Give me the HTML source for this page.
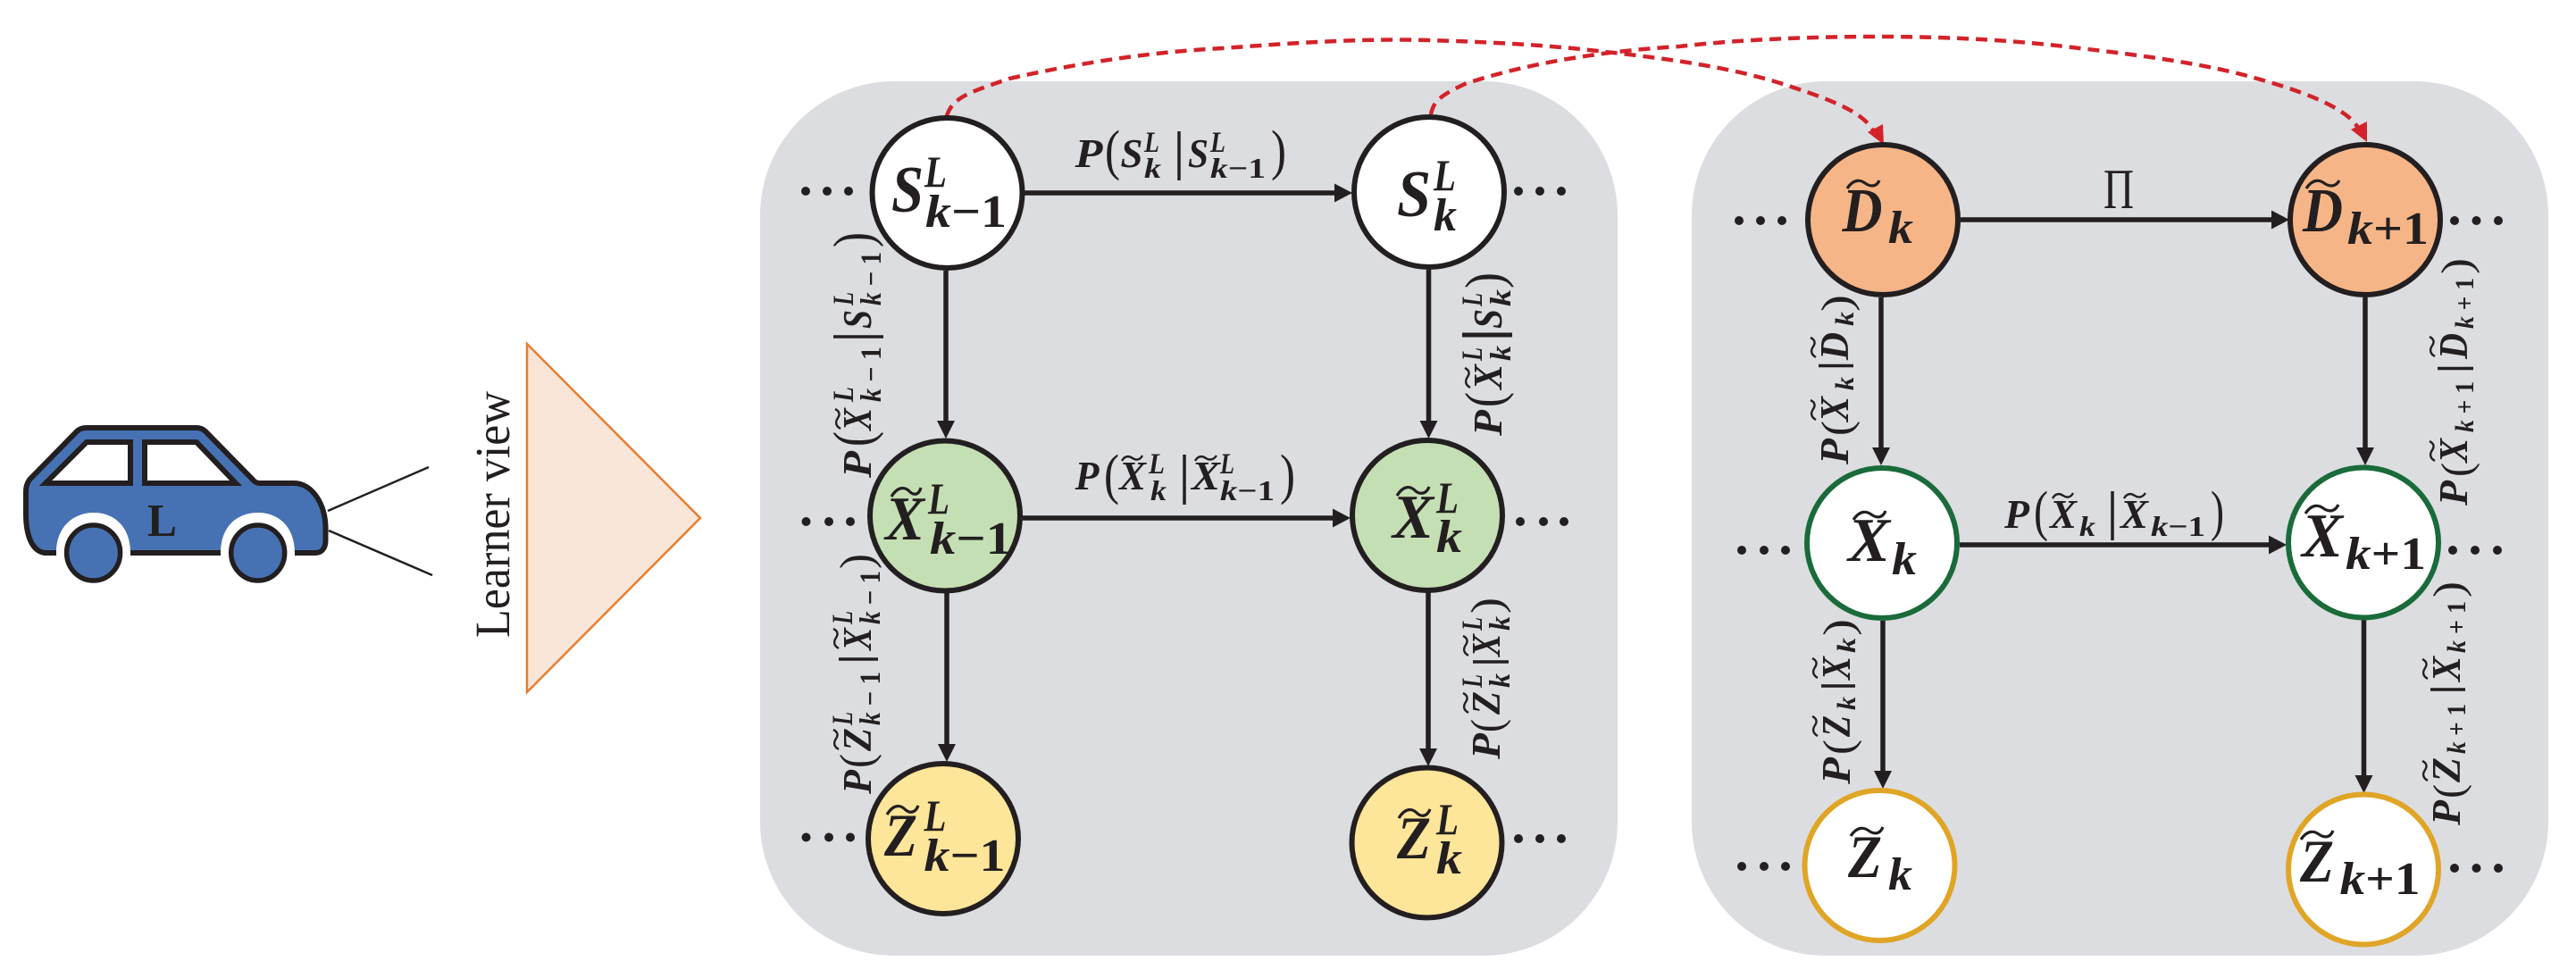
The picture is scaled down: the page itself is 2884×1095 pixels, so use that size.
<!DOCTYPE html>
<html><head><meta charset="utf-8"><style>
html,body{margin:0;padding:0;background:#fff}
svg{display:block}
text{font-family:"Liberation Serif",serif;fill:#231f20}
.m{font-weight:bold;font-style:italic}
.u{font-style:normal}
.n{stroke:#231f20;stroke-width:6}
.t{fill:none;stroke:#231f20;stroke-width:3.2}
.tv{fill:none;stroke:#231f20;stroke-width:2.4}
.bar{stroke:#231f20;stroke-width:3.5}
.a{stroke:#231f20;stroke-width:5.5;fill:none}
.h{fill:#231f20}
.d{fill:#231f20}
.r{fill:none;stroke:#d2232a;stroke-width:4.5;stroke-dasharray:13 8}
</style></head><body>
<svg xmlns="http://www.w3.org/2000/svg" width="2884" height="1095" viewBox="0 0 2884 1095">
<rect width="2884" height="1095" fill="#fff"/>

<!-- car -->
<path d="M63,619 L50,619 C36,617 29,600 29,575 L29,550 Q29,543 33,537 L86,483 Q90,479 97,479 L220,479 Q227,479 232,485 L283,537 Q286,541 291,541 L329,541 C350,541 364,565 364.5,590 L364.5,605 C364.5,614 360,619 353,619 L330,619 C330,590 312,574 288.7,574 C265,574 247,590 247,619 L146,619 C146,590 128,574 105,574 C82,574 63,590 63,619 Z" fill="#4672b4"/>
<path d="M63,619 L50,619 C36,617 29,600 29,575 L29,550 Q29,543 33,537 L86,483 Q90,479 97,479 L220,479 Q227,479 232,485 L283,537 Q286,541 291,541 L329,541 C350,541 364,565 364.5,590 L364.5,605 C364.5,614 360,619 353,619 L330,619 M247,619 L146,619" fill="none" stroke="#231f20" stroke-width="6"/>
<polygon points="51,541 97,495 146,495 146,541" fill="#fff" stroke="#231f20" stroke-width="6"/>
<polygon points="162,541 162,495 220,495 264,541" fill="#fff" stroke="#231f20" stroke-width="6"/>
<ellipse cx="104.6" cy="619" rx="30" ry="31" fill="#4672b4" stroke="#231f20" stroke-width="5.5"/>
<ellipse cx="288.7" cy="619" rx="30" ry="31" fill="#4672b4" stroke="#231f20" stroke-width="5.5"/>
<text x="165" y="600" font-size="52" font-weight="bold" textLength="33" lengthAdjust="spacingAndGlyphs">L</text>
<line x1="367" y1="572" x2="480" y2="523" stroke="#231f20" stroke-width="2.5"/>
<line x1="368" y1="594" x2="484" y2="644" stroke="#231f20" stroke-width="2.5"/>
<polygon points="590,385 784,580 590,775" fill="#f9e6d8" stroke="#e97d2e" stroke-width="2.5"/>
<text transform="translate(570,714) rotate(-90)" font-size="55" textLength="276" lengthAdjust="spacingAndGlyphs">Learner view</text>

<!-- panels -->
<rect x="851" y="91" width="960" height="979" rx="150" ry="150" fill="#dcdde0"/>
<rect x="1894" y="91" width="959" height="979" rx="150" ry="150" fill="#dcdde0"/>

<!-- red dashed -->
<path class="r" d="M1060,130 C1066,108 1090,102 1130,88 C1210,70 1290,58 1369,54 C1450,48 1520,43 1599,45 C1665,47 1730,50 1797,58 C1870,66 1945,76 2008,98 C2050,112 2085,125 2097,146"/>
<path class="r" d="M1602,128 C1605,112 1615,106 1640,94 C1700,74 1780,58 1880,52 C1950,44 2030,41 2104,41 C2190,41 2265,46 2328,54 C2400,62 2470,72 2520,86 C2570,100 2625,118 2640,143"/>
<polygon points="2109,162 2108,139 2091,148" fill="#d2232a"/>
<polygon points="2650,159 2650,136 2632,145" fill="#d2232a"/>

<!-- connectors -->
<g class="a">
<line x1="1147" y1="216" x2="1496" y2="216"/>
<line x1="1145" y1="580" x2="1494" y2="580"/>
<line x1="1059" y1="303" x2="1059" y2="474"/>
<line x1="1599.5" y1="302" x2="1599.5" y2="474"/>
<line x1="1060" y1="664" x2="1060" y2="835"/>
<line x1="1599" y1="663" x2="1599" y2="840"/>
<line x1="2195" y1="246" x2="2545" y2="246"/>
<line x1="2194" y1="610" x2="2542" y2="610"/>
<line x1="2106" y1="333" x2="2106" y2="504"/>
<line x1="2648" y1="333" x2="2648" y2="504"/>
<line x1="2108" y1="695" x2="2108" y2="865"/>
<line x1="2646.5" y1="694" x2="2646.5" y2="870"/>
</g>
<g class="h">
<polygon points="1514,216 1494,205.5 1494,226.500"/>
<polygon points="1512,580 1492,569.500 1492,590.500"/>
<polygon points="1059,491 1049,471 1069,471"/>
<polygon points="1599.500,491 1589.500,471 1609.500,471"/>
<polygon points="1060,853 1050,833 1070,833"/>
<polygon points="1599,858 1589,838 1609,838"/>
<polygon points="2563,246 2543,235.500 2543,256.500"/>
<polygon points="2560,610 2540,599.500 2540,620.500"/>
<polygon points="2106,521 2096,501 2116,501"/>
<polygon points="2648,521 2638,501 2658,501"/>
<polygon points="2108,883 2098,863 2118,863"/>
<polygon points="2646.500,888 2636.500,868 2656.500,868"/>
</g>

<!-- nodes -->
<circle class="n" cx="1060.500" cy="216" r="84" fill="#fff"/>
<circle class="n" cx="1600" cy="215" r="84" fill="#fff"/>
<circle class="n" cx="1058" cy="577.500" r="84" fill="#c5dfb4"/>
<circle class="n" cx="1598" cy="577" r="84" fill="#c5dfb4"/>
<circle class="n" cx="1056" cy="939" r="84" fill="#fde599"/>
<circle class="n" cx="1597.500" cy="943.500" r="84" fill="#fde599"/>
<circle class="n" cx="2108" cy="246" r="84" fill="#f6b587"/>
<circle class="n" cx="2648" cy="246" r="84" fill="#f6b587"/>
<circle class="n" cx="2107" cy="608" r="84" fill="#fff" style="stroke:#1a6b3a"/>
<circle class="n" cx="2646" cy="607.500" r="84" fill="#fff" style="stroke:#1a6b3a"/>
<circle class="n" cx="2104.500" cy="969" r="84" fill="#fff" style="stroke:#e0a526"/>
<circle class="n" cx="2646" cy="973.500" r="84" fill="#fff" style="stroke:#e0a526"/>

<!-- ellipsis dots -->
<g class="d">
<circle cx="902" cy="214" r="5"/><circle cx="926" cy="214" r="5"/><circle cx="950" cy="214" r="5"/>
<circle cx="1700" cy="214" r="5"/><circle cx="1724" cy="214" r="5"/><circle cx="1748" cy="214" r="5"/>
<circle cx="902.500" cy="584" r="5"/><circle cx="928" cy="584" r="5"/><circle cx="952" cy="584" r="5"/>
<circle cx="1702" cy="584" r="5"/><circle cx="1728" cy="584" r="5"/><circle cx="1751" cy="584" r="5"/>
<circle cx="902.500" cy="937.500" r="5"/><circle cx="928" cy="937.500" r="5"/><circle cx="952" cy="937.500" r="5"/>
<circle cx="1700" cy="939" r="5"/><circle cx="1724" cy="939" r="5"/><circle cx="1748" cy="939" r="5"/>
<circle cx="1947" cy="247" r="5"/><circle cx="1971" cy="247" r="5"/><circle cx="1995" cy="247" r="5"/>
<circle cx="2748" cy="247" r="5"/><circle cx="2772.500" cy="247" r="5"/><circle cx="2797" cy="247" r="5"/>
<circle cx="1950" cy="616" r="5"/><circle cx="1975" cy="616" r="5"/><circle cx="1999" cy="616" r="5"/>
<circle cx="2746" cy="616" r="5"/><circle cx="2771" cy="616" r="5"/><circle cx="2796" cy="616" r="5"/>
<circle cx="1950" cy="970" r="5"/><circle cx="1975" cy="970" r="5"/><circle cx="1999" cy="970" r="5"/>
<circle cx="2748" cy="972" r="5"/><circle cx="2772.500" cy="972" r="5"/><circle cx="2797" cy="972" r="5"/>
</g>

<!-- node labels -->
<g class="m">
<text x="998" y="237" font-size="74" textLength="36" lengthAdjust="spacingAndGlyphs">S</text>
<text x="1035" y="209" font-size="50" textLength="25" lengthAdjust="spacingAndGlyphs">L</text>
<text x="1036" y="254" font-size="52" textLength="91" lengthAdjust="spacingAndGlyphs">k<tspan class="u">−1</tspan></text>

<text x="1564" y="242" font-size="74" textLength="38" lengthAdjust="spacingAndGlyphs">S</text>
<text x="1605" y="213" font-size="50" textLength="25" lengthAdjust="spacingAndGlyphs">L</text>
<text x="1605" y="258" font-size="52" textLength="26" lengthAdjust="spacingAndGlyphs">k</text>

<text x="991" y="604" font-size="70" textLength="44" lengthAdjust="spacingAndGlyphs">X</text>
<text x="1039" y="575" font-size="50" textLength="24" lengthAdjust="spacingAndGlyphs">L</text>
<text x="1041" y="620" font-size="52" textLength="92" lengthAdjust="spacingAndGlyphs">k<tspan class="u">−1</tspan></text>

<text x="1559" y="602" font-size="70" textLength="46" lengthAdjust="spacingAndGlyphs">X</text>
<text x="1608" y="574" font-size="50" textLength="25" lengthAdjust="spacingAndGlyphs">L</text>
<text x="1608" y="618" font-size="52" textLength="29" lengthAdjust="spacingAndGlyphs">k</text>

<text x="990" y="958" font-size="68" textLength="37" lengthAdjust="spacingAndGlyphs">Z</text>
<text x="1034.500" y="930" font-size="50" textLength="25" lengthAdjust="spacingAndGlyphs">L</text>
<text x="1034.500" y="975" font-size="52" textLength="91" lengthAdjust="spacingAndGlyphs">k<tspan class="u">−1</tspan></text>

<text x="1564" y="961" font-size="68" textLength="38" lengthAdjust="spacingAndGlyphs">Z</text>
<text x="1608" y="934" font-size="50" textLength="25" lengthAdjust="spacingAndGlyphs">L</text>
<text x="1608" y="978" font-size="52" textLength="29" lengthAdjust="spacingAndGlyphs">k</text>

<text x="2062.500" y="259" font-size="70" textLength="45" lengthAdjust="spacingAndGlyphs">D</text>
<text x="2114" y="272" font-size="52" textLength="28" lengthAdjust="spacingAndGlyphs">k</text>
<text x="2578" y="259" font-size="70" textLength="45" lengthAdjust="spacingAndGlyphs">D</text>
<text x="2628" y="273" font-size="52" textLength="91" lengthAdjust="spacingAndGlyphs">k<tspan class="u">+1</tspan></text>

<text x="2069" y="628" font-size="70" textLength="47" lengthAdjust="spacingAndGlyphs">X</text>
<text x="2118" y="643" font-size="52" textLength="28" lengthAdjust="spacingAndGlyphs">k</text>
<text x="2577" y="623" font-size="70" textLength="46" lengthAdjust="spacingAndGlyphs">X</text>
<text x="2626" y="637" font-size="52" textLength="90" lengthAdjust="spacingAndGlyphs">k<tspan class="u">+1</tspan></text>

<text x="2069" y="982" font-size="68" textLength="38" lengthAdjust="spacingAndGlyphs">Z</text>
<text x="2114" y="996" font-size="52" textLength="27" lengthAdjust="spacingAndGlyphs">k</text>
<text x="2575" y="987" font-size="68" textLength="38" lengthAdjust="spacingAndGlyphs">Z</text>
<text x="2619.500" y="1001" font-size="52" textLength="90" lengthAdjust="spacingAndGlyphs">k<tspan class="u">+1</tspan></text>
</g>
<!-- node tildes -->
<g class="t">
<path d="M998,556 C1006,543 1014,546 1018,550 S1028,556 1031,546"/>
<path d="M1564,555 C1572,542 1580,545 1584,549 S1596,555 1600,545"/>
<path d="M993,912 C1001,899 1009,902 1013,906 S1024,912 1028,902"/>
<path d="M1566,916 C1574,903 1582,906 1586,910 S1597,916 1601,906"/>
<path d="M2068,211 C2076,199 2084,202 2088,205 S2100,211 2104,202"/>
<path d="M2582,211 C2590,199 2598,202 2602,205 S2614,211 2619,202"/>
<path d="M2075,582 C2083,570 2091,573 2095,576 S2107,582 2111,572"/>
<path d="M2581,575 C2589,563 2597,566 2601,569 S2613,575 2618,565"/>
<path d="M2072,936 C2080,924 2088,927 2092,930 S2104,936 2108,926"/>
<path d="M2576,940 C2584,928 2592,931 2596,934 S2608,940 2612,930"/>
</g>

<!-- Pi -->
<text x="2355" y="233" font-size="64" textLength="34" lengthAdjust="spacingAndGlyphs">Π</text>

<!-- horizontal edge labels -->
<g class="m" font-size="46">
<text x="1203.500" y="187" textLength="31" lengthAdjust="spacingAndGlyphs">P</text>
<text x="1254.500" y="187" textLength="25" lengthAdjust="spacingAndGlyphs">S</text>
<text x="1281" y="170" font-size="33" textLength="17" lengthAdjust="spacingAndGlyphs">L</text>
<text x="1281" y="199" font-size="32" textLength="19" lengthAdjust="spacingAndGlyphs">k</text>
<text x="1330" y="187" textLength="23" lengthAdjust="spacingAndGlyphs">S</text>
<text x="1355" y="170" font-size="33" textLength="17" lengthAdjust="spacingAndGlyphs">L</text>
<text x="1355" y="199" font-size="32" textLength="62" lengthAdjust="spacingAndGlyphs">k<tspan class="u">−1</tspan></text>

<text x="1203.500" y="548" textLength="27" lengthAdjust="spacingAndGlyphs">P</text>
<text x="1253" y="548" textLength="30" lengthAdjust="spacingAndGlyphs">X</text>
<text x="1286" y="530" font-size="33" textLength="18" lengthAdjust="spacingAndGlyphs">L</text>
<text x="1288" y="560" font-size="32" textLength="18" lengthAdjust="spacingAndGlyphs">k</text>
<text x="1334" y="548" textLength="32" lengthAdjust="spacingAndGlyphs">X</text>
<text x="1366" y="530" font-size="33" textLength="16" lengthAdjust="spacingAndGlyphs">L</text>
<text x="1366" y="560" font-size="32" textLength="61" lengthAdjust="spacingAndGlyphs">k<tspan class="u">−1</tspan></text>

<text x="2244" y="591" textLength="28" lengthAdjust="spacingAndGlyphs">P</text>
<text x="2295" y="591" textLength="30" lengthAdjust="spacingAndGlyphs">X</text>
<text x="2328" y="600" font-size="32" textLength="18" lengthAdjust="spacingAndGlyphs">k</text>
<text x="2374" y="591" textLength="31" lengthAdjust="spacingAndGlyphs">X</text>
<text x="2408" y="600" font-size="32" textLength="61" lengthAdjust="spacingAndGlyphs">k<tspan class="u">−1</tspan></text>
</g>
<g font-size="62">
<text x="1237" y="189" textLength="17" lengthAdjust="spacingAndGlyphs">(</text>
<text x="1423" y="189" textLength="17" lengthAdjust="spacingAndGlyphs">)</text>
<text x="1236" y="552" textLength="17" lengthAdjust="spacingAndGlyphs">(</text>
<text x="1433" y="552" textLength="17" lengthAdjust="spacingAndGlyphs">)</text>
<text x="2277" y="593" textLength="16" lengthAdjust="spacingAndGlyphs">(</text>
<text x="2475" y="593" textLength="15" lengthAdjust="spacingAndGlyphs">)</text>
</g>
<g class="bar">
<line x1="1320" y1="147" x2="1320" y2="202"/>
<line x1="1326" y1="509" x2="1326" y2="565"/>
<line x1="2365" y1="550" x2="2365" y2="605"/>
</g>
<g class="tv">
<path d="M1256,516 C1260,509 1265,511 1268,513 S1276,516 1279,510"/>
<path d="M1338,516 C1342,509 1347,511 1350,513 S1358,516 1362,510"/>
<path d="M2298,558 C2302,551 2307,553 2310,555 S2318,558 2321,552"/>
<path d="M2378,558 C2382,551 2387,553 2390,555 S2398,558 2402,552"/>
</g>

<!-- vertical labels -->
<g transform="translate(975,535) rotate(-90)">
<g class="m" font-size="46">
<text x="0" y="0" textLength="30" lengthAdjust="spacingAndGlyphs">P</text>
<text x="53" y="0" textLength="25" lengthAdjust="spacingAndGlyphs">X</text>
<text x="85" y="-20" font-size="33" textLength="17" lengthAdjust="spacingAndGlyphs">L</text>
<text x="85" y="11" font-size="33" textLength="62" lengthAdjust="spacingAndGlyphs">k<tspan class="u"> − 1</tspan></text>
<text x="167" y="0" textLength="21" lengthAdjust="spacingAndGlyphs">S</text>
<text x="193" y="-20" font-size="33" textLength="15" lengthAdjust="spacingAndGlyphs">L</text>
<text x="193" y="11" font-size="33" textLength="60" lengthAdjust="spacingAndGlyphs">k<tspan class="u"> − 1</tspan></text>
</g>
<g font-size="62"><text x="35" y="1" textLength="17" lengthAdjust="spacingAndGlyphs">(</text><text x="258" y="1" textLength="17" lengthAdjust="spacingAndGlyphs">)</text></g>
<line class="bar" x1="158" y1="-42" x2="158" y2="14"/>
<path class="tv" d="M55,-34 C59,-41 64,-39 67,-37 S74,-34 77,-40"/>
</g>

<g transform="translate(1681,488) rotate(-90)">
<g class="m" font-size="46">
<text x="0" y="0" textLength="29" lengthAdjust="spacingAndGlyphs">P</text>
<text x="52" y="0" textLength="28" lengthAdjust="spacingAndGlyphs">X</text>
<text x="84" y="-22" font-size="33" textLength="15" lengthAdjust="spacingAndGlyphs">L</text>
<text x="84" y="10" font-size="33" textLength="17" lengthAdjust="spacingAndGlyphs">k</text>
<text x="120" y="0" textLength="22" lengthAdjust="spacingAndGlyphs">S</text>
<text x="145" y="-22" font-size="33" textLength="15" lengthAdjust="spacingAndGlyphs">L</text>
<text x="145" y="10" font-size="33" textLength="19" lengthAdjust="spacingAndGlyphs">k</text>
</g>
<g font-size="60"><text x="32" y="1" textLength="17" lengthAdjust="spacingAndGlyphs">(</text><text x="165" y="1" textLength="18" lengthAdjust="spacingAndGlyphs">)</text></g>
<line class="bar" style="stroke-width:5" x1="113" y1="-44" x2="113" y2="12"/>
<path class="tv" d="M54,-35 C58,-42 63,-40 66,-38 S73,-35 76,-41"/>
</g>

<g transform="translate(975,889) rotate(-90)">
<g class="m" font-size="46">
<text x="0" y="0" textLength="27" lengthAdjust="spacingAndGlyphs">P</text>
<text x="48" y="0" textLength="26" lengthAdjust="spacingAndGlyphs">Z</text>
<text x="77" y="-21" font-size="33" textLength="15" lengthAdjust="spacingAndGlyphs">L</text>
<text x="77" y="10" font-size="33" textLength="60" lengthAdjust="spacingAndGlyphs">k<tspan class="u"> − 1</tspan></text>
<text x="161" y="0" textLength="25" lengthAdjust="spacingAndGlyphs">X</text>
<text x="190" y="-21" font-size="33" textLength="15" lengthAdjust="spacingAndGlyphs">L</text>
<text x="190" y="10" font-size="33" textLength="60" lengthAdjust="spacingAndGlyphs">k<tspan class="u"> − 1</tspan></text>
</g>
<g font-size="52"><text x="29" y="1" textLength="16" lengthAdjust="spacingAndGlyphs">(</text><text x="252" y="1" textLength="17" lengthAdjust="spacingAndGlyphs">)</text></g>
<line class="bar" x1="151" y1="-36" x2="151" y2="8"/>
<path class="tv" d="M50,-36 C54,-43 59,-41 62,-39 S69,-36 72,-42"/>
<path class="tv" d="M163,-36 C167,-43 172,-41 175,-39 S182,-36 185,-42"/>
</g>

<g transform="translate(1679,850) rotate(-90)">
<g class="m" font-size="46">
<text x="0" y="0" textLength="29" lengthAdjust="spacingAndGlyphs">P</text>
<text x="50" y="0" textLength="26" lengthAdjust="spacingAndGlyphs">Z</text>
<text x="80" y="-20" font-size="33" textLength="15" lengthAdjust="spacingAndGlyphs">L</text>
<text x="80" y="11" font-size="33" textLength="16" lengthAdjust="spacingAndGlyphs">k</text>
<text x="115" y="0" textLength="25" lengthAdjust="spacingAndGlyphs">X</text>
<text x="144" y="-20" font-size="33" textLength="15" lengthAdjust="spacingAndGlyphs">L</text>
<text x="144" y="11" font-size="33" textLength="16" lengthAdjust="spacingAndGlyphs">k</text>
</g>
<g font-size="50"><text x="30" y="2" textLength="15" lengthAdjust="spacingAndGlyphs">(</text><text x="163" y="2" textLength="18" lengthAdjust="spacingAndGlyphs">)</text></g>
<line class="bar" x1="109" y1="-30" x2="109" y2="10"/>
<path class="tv" d="M52,-35 C56,-42 61,-40 64,-38 S71,-35 74,-41"/>
<path class="tv" d="M116,-35 C120,-42 125,-40 128,-38 S135,-35 138,-41"/>
</g>

<g transform="translate(2069,520) rotate(-90)">
<g class="m" font-size="46">
<text x="0" y="0" textLength="29" lengthAdjust="spacingAndGlyphs">P</text>
<text x="48" y="0" textLength="28" lengthAdjust="spacingAndGlyphs">X</text>
<text x="83" y="6" font-size="30" textLength="15" lengthAdjust="spacingAndGlyphs">k</text>
<text x="117" y="0" textLength="31" lengthAdjust="spacingAndGlyphs">D</text>
<text x="155" y="6" font-size="30" textLength="16" lengthAdjust="spacingAndGlyphs">k</text>
</g>
<g font-size="48"><text x="32" y="3" textLength="17" lengthAdjust="spacingAndGlyphs">(</text><text x="171" y="3" textLength="19" lengthAdjust="spacingAndGlyphs">)</text></g>
<line class="bar" x1="110.500" y1="-33" x2="110.500" y2="6"/>
<path class="tv" d="M50,-36 C54,-43 59,-41 62,-39 S69,-36 72,-42"/>
<path class="tv" d="M120,-36 C124,-43 129,-41 132,-39 S139,-36 142,-42"/>
</g>

<g transform="translate(2762,566) rotate(-90)">
<g class="m" font-size="46">
<text x="0" y="0" textLength="28" lengthAdjust="spacingAndGlyphs">P</text>
<text x="48" y="0" textLength="27" lengthAdjust="spacingAndGlyphs">X</text>
<text x="82" y="7" font-size="30" textLength="57" lengthAdjust="spacingAndGlyphs">k<tspan class="u"> + 1</tspan></text>
<text x="164" y="0" textLength="29" lengthAdjust="spacingAndGlyphs">D</text>
<text x="198" y="7" font-size="30" textLength="57" lengthAdjust="spacingAndGlyphs">k<tspan class="u"> + 1</tspan></text>
</g>
<g font-size="48"><text x="32" y="4" textLength="16" lengthAdjust="spacingAndGlyphs">(</text><text x="259" y="4" textLength="18" lengthAdjust="spacingAndGlyphs">)</text></g>
<line class="bar" x1="153.500" y1="-33" x2="153.500" y2="7"/>
<path class="tv" d="M50,-36 C54,-43 59,-41 62,-39 S69,-36 72,-42"/>
<path class="tv" d="M167,-36 C171,-43 176,-41 179,-39 S186,-36 189,-42"/>
</g>

<g transform="translate(2071,878) rotate(-90)">
<g class="m" font-size="46">
<text x="0" y="0" textLength="30" lengthAdjust="spacingAndGlyphs">P</text>
<text x="53" y="0" textLength="24" lengthAdjust="spacingAndGlyphs">Z</text>
<text x="83" y="6" font-size="30" textLength="15" lengthAdjust="spacingAndGlyphs">k</text>
<text x="117" y="0" textLength="26" lengthAdjust="spacingAndGlyphs">X</text>
<text x="147" y="6" font-size="30" textLength="17" lengthAdjust="spacingAndGlyphs">k</text>
</g>
<g font-size="48"><text x="33" y="3" textLength="17" lengthAdjust="spacingAndGlyphs">(</text><text x="166" y="3" textLength="19" lengthAdjust="spacingAndGlyphs">)</text></g>
<line class="bar" x1="110" y1="-32" x2="110" y2="6"/>
<path class="tv" d="M54,-36 C58,-43 63,-41 66,-39 S73,-36 76,-42"/>
<path class="tv" d="M119,-36 C123,-43 128,-41 131,-39 S138,-36 141,-42"/>
</g>

<g transform="translate(2754,924) rotate(-90)">
<g class="m" font-size="46">
<text x="0" y="0" textLength="28" lengthAdjust="spacingAndGlyphs">P</text>
<text x="48" y="0" textLength="28" lengthAdjust="spacingAndGlyphs">Z</text>
<text x="80" y="6" font-size="30" textLength="56" lengthAdjust="spacingAndGlyphs">k<tspan class="u"> + 1</tspan></text>
<text x="161" y="0" textLength="28" lengthAdjust="spacingAndGlyphs">X</text>
<text x="193" y="6" font-size="30" textLength="58" lengthAdjust="spacingAndGlyphs">k<tspan class="u"> + 1</tspan></text>
</g>
<g font-size="48"><text x="30" y="3" textLength="16" lengthAdjust="spacingAndGlyphs">(</text><text x="255" y="3" textLength="18" lengthAdjust="spacingAndGlyphs">)</text></g>
<line class="bar" x1="152" y1="-33" x2="152" y2="6"/>
<path class="tv" d="M50,-36 C54,-43 59,-41 62,-39 S69,-36 72,-42"/>
<path class="tv" d="M164,-36 C168,-43 173,-41 176,-39 S183,-36 186,-42"/>
</g>
</svg>
</body></html>
